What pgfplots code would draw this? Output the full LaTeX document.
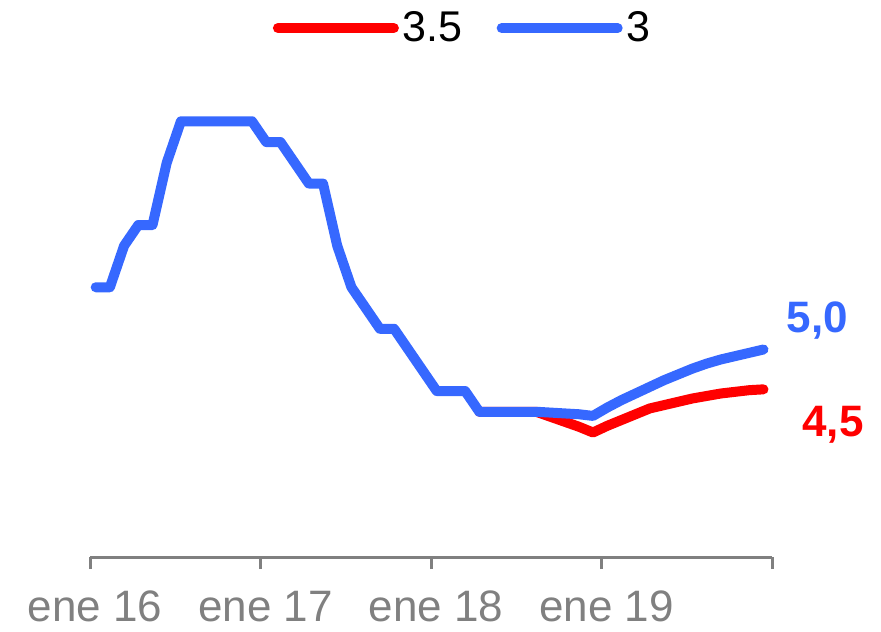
\documentclass[border=0pt]{standalone}
\usepackage{pgfplots}
\pgfplotsset{compat=1.18}
\usepackage{fontspec}
\setmainfont{Liberation Sans}
\definecolor{rojo}{RGB}{255,0,0}
\definecolor{azul}{RGB}{54,104,255}
\definecolor{eje}{RGB}{128,128,128}

% monthly path, Jan 2016 = 0
\pgfplotstableread{
x y
0.4 5.75
1.4 5.75
2.4 6.25
3.4 6.50
4.4 6.50
5.4 7.25
6.4 7.75
7.4 7.75
8.4 7.75
9.4 7.75
10.4 7.75
11.4 7.75
12.4 7.50
13.4 7.50
14.4 7.25
15.4 7.00
16.4 7.00
17.4 6.25
18.4 5.75
19.4 5.50
20.4 5.25
21.4 5.25
22.4 5.00
23.4 4.75
24.4 4.50
25.4 4.50
26.4 4.50
27.4 4.25
28.4 4.25
29.4 4.25
30.4 4.25
31.4 4.25
32.4 4.24
33.4 4.23
34.4 4.22
35.4 4.20
36.4 4.30
37.4 4.39
38.4 4.47
39.4 4.55
40.4 4.63
41.4 4.70
42.4 4.77
43.4 4.83
44.4 4.88
45.4 4.92
46.4 4.96
47.4 5.00
}\serieTres

\pgfplotstableread{
x y
27.4 4.25
28.4 4.25
29.4 4.25
30.4 4.25
31.4 4.25
32.4 4.19
33.4 4.13
34.4 4.07
35.4 4.00
36.4 4.08
37.4 4.15
38.4 4.22
39.4 4.29
40.4 4.33
41.4 4.37
42.4 4.41
43.4 4.44
44.4 4.47
45.4 4.49
46.4 4.51
47.4 4.52
}\serieTresCinco

\begin{document}
\begin{tikzpicture}
\path[use as bounding box] (-45pt,-37pt) rectangle (395.5pt,278.5pt);
\begin{axis}[
  scale only axis, width=341pt, height=249pt,
  xmin=0, xmax=48, ymin=2.5, ymax=8.5,
  axis x line=bottom, axis y line=none,
  x axis line style={-, draw=eje, line width=1.5pt},
  xtick={0,12,24,36,48},
  xticklabels={ene 16, ene 17, ene 18, ene 19, {}},
  xtick style={draw=eje, line width=1.5pt},
  tick align=outside, major tick length=6pt,
  xticklabel style={font=\fontsize{22}{26}\selectfont, text=eje, xshift=2.5pt, yshift=-7.5pt},
  clip=false,
  legend columns=2,
  legend style={at={(0.548,1.062)}, anchor=center, draw=none, fill=none,
    font=\fontsize{21.5}{25}\selectfont,
    /tikz/every even column/.append style={column sep=15pt}},
  legend image code/.code={\draw[#1] (0pt,0pt) -- (58pt,0pt);},
]
\addplot[rojo, line width=5pt, line join=round, line cap=round] table {\serieTresCinco};
\addlegendentry{3.5}
\addplot[azul, line width=5pt, line join=round, line cap=round] table {\serieTres};
\addlegendentry{3}
\node[anchor=base, text=azul, font=\bfseries\fontsize{22}{26}\selectfont] at (axis cs:51.2,5.21) {5,0};
\node[anchor=base, text=rojo, font=\bfseries\fontsize{22}{26}\selectfont] at (axis cs:52.3,3.95) {4,5};
\end{axis}
\end{tikzpicture}
\end{document}
